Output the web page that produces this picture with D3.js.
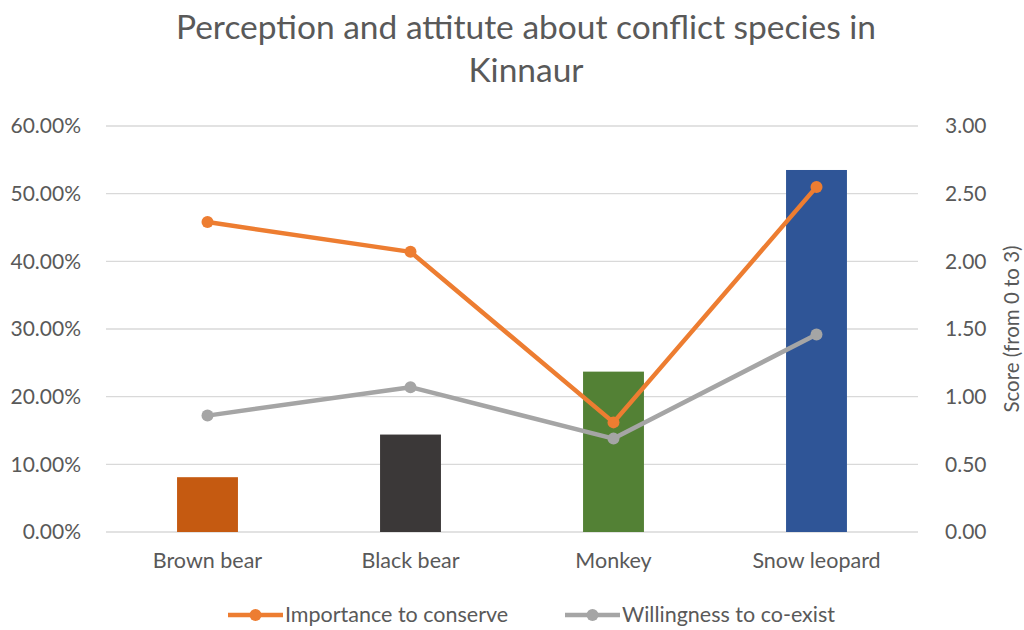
<!DOCTYPE html>
<html>
<head>
<meta charset="utf-8">
<script src="https://cdn.jsdelivr.net/npm/d3@7"></script>
<style>
  html, body { margin: 0; padding: 0; background: #fff; }
  svg { display: block; font-family: Lato, "Open Sans", sans-serif; }
</style>
</head>
<body>
<svg id="chart" width="1024" height="630"></svg>
<script>
// Species surveyed
const categories = ["Brown bear", "Black bear", "Monkey", "Snow leopard"];
// Share of respondents (bars, left axis, %)
const shareValues = [8.1, 14.4, 23.7, 53.5];
const barColors = ["#C55A11", "#3B3838", "#538135", "#2F5597"];
// Scores on the right axis (0 to 3)
const importanceToConserve = [2.29, 2.07, 0.81, 2.55];
const willingnessToCoexist = [0.86, 1.07, 0.69, 1.46];
const leftTicks = [0, 10, 20, 30, 40, 50, 60];
const rightTicks = [0, 0.5, 1, 1.5, 2, 2.5, 3];
const seriesNames = ["Importance to conserve", "Willingness to co-exist"];

const svg = d3.select("#chart");
const textColor = "#595959";
const fontFamily = "Lato, 'Open Sans', sans-serif";
const plot = { left: 106, right: 918, top: 126, bottom: 532 };

const x = d3.scaleBand()
  .domain(categories)
  .range([plot.left, plot.right])
  .paddingInner(0.7)
  .paddingOuter(0.35);
const yLeft = d3.scaleLinear().domain([0, 60]).range([plot.bottom, plot.top]);
const yRight = d3.scaleLinear().domain([0, 3]).range([plot.bottom, plot.top]);

// Title
const title = svg.append("text")
  .attr("x", 526).attr("text-anchor", "middle")
  .attr("fill", textColor).attr("font-size", 33.5);
title.append("tspan").attr("x", 526).attr("y", 39)
  .text("Perception and attitute about conflict species in");
title.append("tspan").attr("x", 526).attr("y", 82).text("Kinnaur");

// Gridlines
svg.append("g").selectAll("line").data(leftTicks).join("line")
  .attr("x1", plot.left).attr("x2", plot.right)
  .attr("y1", d => yLeft(d)).attr("y2", d => yLeft(d))
  .attr("stroke", "#D9D9D9").attr("stroke-width", 1.3);

// Left axis
const leftAxis = svg.append("g")
  .attr("transform", `translate(${plot.left - 22},0)`)
  .call(d3.axisLeft(yLeft).tickValues(leftTicks).tickSize(0)
    .tickFormat(d => d.toFixed(2) + "%"));
leftAxis.select(".domain").remove();
leftAxis.selectAll("text").attr("fill", textColor).attr("font-size", 21)
  .attr("font-family", fontFamily);

// Right axis
const rightAxis = svg.append("g")
  .attr("transform", `translate(${plot.right + 24},0)`)
  .call(d3.axisRight(yRight).tickValues(rightTicks).tickSize(0)
    .tickFormat(d3.format(".2f")));
rightAxis.select(".domain").remove();
rightAxis.selectAll("text").attr("fill", textColor).attr("font-size", 21)
  .attr("font-family", fontFamily);

// Right axis title
svg.append("text")
  .attr("transform", `translate(1019,${(plot.top + plot.bottom) / 2}) rotate(-90)`)
  .attr("text-anchor", "middle")
  .attr("fill", textColor).attr("font-size", 20.5)
  .text("Score (from 0 to 3)");

// Category axis
const bottomAxis = svg.append("g")
  .attr("transform", `translate(0,${plot.bottom + 18})`)
  .call(d3.axisBottom(x).tickSize(0));
bottomAxis.select(".domain").remove();
bottomAxis.selectAll("text").attr("fill", textColor).attr("font-size", 21.5)
  .attr("font-family", fontFamily);

// Bars
svg.append("g").selectAll("rect").data(categories).join("rect")
  .attr("x", d => x(d))
  .attr("width", x.bandwidth())
  .attr("y", (d, i) => yLeft(shareValues[i]))
  .attr("height", (d, i) => yLeft(0) - yLeft(shareValues[i]))
  .attr("fill", (d, i) => barColors[i]);

// Lines with markers
const lineSeries = [
  { name: seriesNames[0], values: importanceToConserve, color: "#ED7D31" },
  { name: seriesNames[1], values: willingnessToCoexist, color: "#A5A5A5" }
];
const cx = d => x(d) + x.bandwidth() / 2;
const line = d3.line().x((v, i) => cx(categories[i])).y(v => yRight(v));

// draw grey first so orange sits on top
[lineSeries[1], lineSeries[0]].forEach(s => {
  const g = svg.append("g");
  g.append("path").datum(s.values)
    .attr("d", line).attr("fill", "none")
    .attr("stroke", s.color).attr("stroke-width", 4.5)
    .attr("stroke-linejoin", "round");
  g.selectAll("circle").data(s.values).join("circle")
    .attr("cx", (v, i) => cx(categories[i]))
    .attr("cy", v => yRight(v))
    .attr("r", 6).attr("fill", s.color);
});

// Legend
const legendY = 615;
const legendItems = [
  { s: lineSeries[0], x0: 228 },
  { s: lineSeries[1], x0: 565 }
];
legendItems.forEach(({ s, x0 }) => {
  const g = svg.append("g");
  g.append("line").attr("x1", x0).attr("x2", x0 + 55)
    .attr("y1", legendY).attr("y2", legendY)
    .attr("stroke", s.color).attr("stroke-width", 4.5);
  g.append("circle").attr("cx", x0 + 27.5).attr("cy", legendY).attr("r", 6)
    .attr("fill", s.color);
  g.append("text").attr("x", x0 + 57).attr("y", legendY + 7)
    .attr("fill", textColor).attr("font-size", 21.5).text(s.name);
});
</script>
</body>
</html>
